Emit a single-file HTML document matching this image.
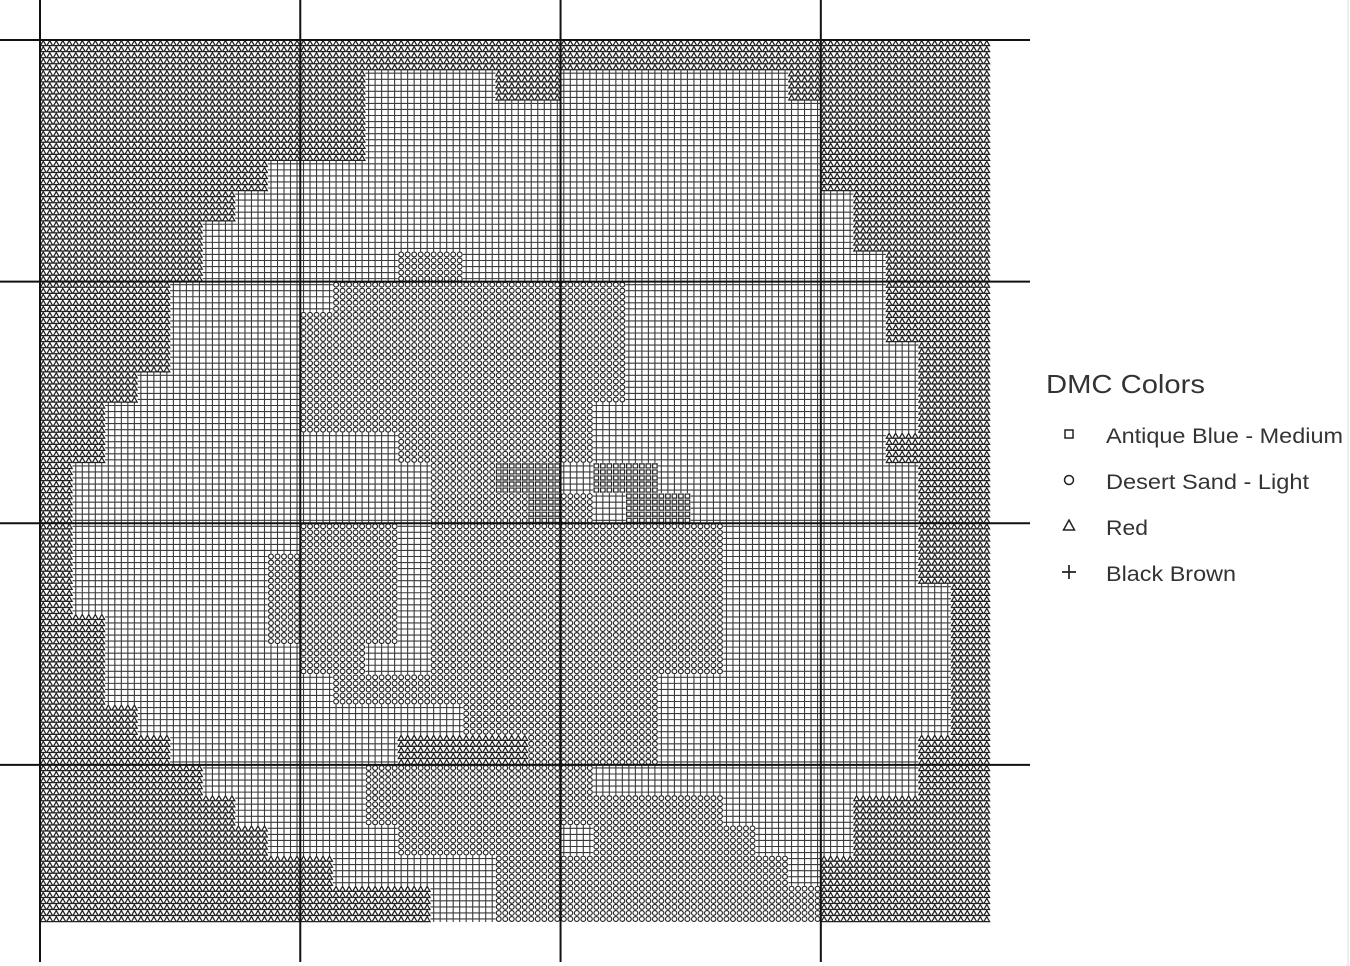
<!DOCTYPE html>
<html><head><meta charset="utf-8"><style>
html,body{margin:0;padding:0;background:#fff;}
svg{display:block;font-family:"Liberation Sans",sans-serif;}
</style></head><body>
<svg id="chart" width="1350" height="966" viewBox="0 0 1350 966">
  <rect x="0" y="0" width="1350" height="966" fill="#fff"/>
  <g id="marks"></g>
  <g id="major"></g>
  <line x1="1348" y1="0" x2="1348" y2="966" stroke="#ddd" stroke-width="1"/>
  <g>
    <text x="1046" y="393" font-size="26" textLength="159" lengthAdjust="spacingAndGlyphs" fill="#333">DMC Colors</text>
    <g>
      <rect x="1065" y="430" width="8" height="8" fill="none" stroke="#222" stroke-width="1.5"/>
      <text x="1106" y="443" font-size="21" textLength="237" lengthAdjust="spacingAndGlyphs" fill="#333">Antique Blue - Medium</text>
    </g>
    <g>
      <circle cx="1069" cy="480" r="4.5" fill="none" stroke="#222" stroke-width="1.5"/>
      <text x="1106" y="489" font-size="21" textLength="203" lengthAdjust="spacingAndGlyphs" fill="#333">Desert Sand - Light</text>
    </g>
    <g>
      <path d="M1069 520 L1074.5 530 L1063.5 530 Z" fill="none" stroke="#222" stroke-width="1.5"/>
      <text x="1106" y="535" font-size="21" textLength="42" lengthAdjust="spacingAndGlyphs" fill="#333">Red</text>
    </g>
    <g>
      <path d="M1062 572 L1076 572 M1069 565 L1069 579" stroke="#222" stroke-width="1.7"/>
      <text x="1106" y="581" font-size="21" textLength="130" lengthAdjust="spacingAndGlyphs" fill="#333">Black Brown</text>
    </g>
  </g>
</svg>
<script>
// Pattern data: coarse map rows (run-length: symbol letter + count), each coarse cell = 5x5 stitches
const nCols = 146;
const nRows = 146;
const blockSize = 5;
const patternRows = [
"T29",
"T10P4T2P7T6",
"T10P14T5",
"T10P14T5",
"T7P17T5",
"T6P19T4",
"T5P20T4",
"T5P6O2P13T3",
"T4P5O9P8T3",
"T4P4O10P8T3",
"T4P4O10P9T2",
"T3P5O10P9T2",
"T2P6O9P10T2",
"T2P9O6P9T3",
"T1P11O2S2P1S2P8T2",
"T1P11O3S1O1P1S2P7T2",
"T1P7O3P1O9P6T2",
"T1P6O4P1O9P6T2",
"T1P6O4P1O9P7T1",
"T2P5O4P1O9P7T1",
"T2P6O2P2O9P7T1",
"T2P7O10P9T1",
"T3P10O6P9T1",
"T4P7T4O4P8T2",
"T5P5O7P10T2",
"T6P4O11P4T4",
"T7P4O5P1O5P3T4",
"T9P5O9P1T5",
"T12P2O10T5"
];
const majorEvery = 40;

const x0 = 40, y0 = 40, plotW = 950, plotH = 882;
const cw = plotW / nCols, ch = plotH / nRows;
function xScale(c){ return x0 + c * cw; }
function yScale(r){ return y0 + r * ch; }

function expand(rle){
  const out = [];
  const re = /([A-Z])(\d+)/g; let m;
  while((m = re.exec(rle))){ for(let i=0;i<+m[2];i++) out.push(m[1]); }
  return out;
}
const coarse = patternRows.map(expand);
function symbolAt(r,c){
  const rr = Math.min(coarse.length-1, Math.floor(r/blockSize));
  const row = coarse[rr];
  const cc = Math.min(row.length-1, Math.floor(c/blockSize));
  return row[cc];
}

let dP = "", dT = "", dO = "", dS = "";
for(let r=0;r<nRows;r++){
  for(let c=0;c<nCols;c++){
    const s = symbolAt(r,c);
    const x = xScale(c), y = yScale(r), cx = x + cw/2, cy = y + ch/2;
    if(s === "P"){
      dP += `M${x.toFixed(2)} ${cy.toFixed(2)}h${cw.toFixed(2)}M${cx.toFixed(2)} ${y.toFixed(2)}v${ch.toFixed(2)}`;
    } else if(s === "T"){
      dT += `M${cx.toFixed(2)} ${(y+0.6).toFixed(2)}L${(x+cw-0.4).toFixed(2)} ${(y+ch-0.4).toFixed(2)}H${(x+0.4).toFixed(2)}Z`;
    } else if(s === "O"){
      const rad = Math.min(cw,ch)/2 - 0.6;
      dO += `M${(cx-rad).toFixed(2)} ${cy.toFixed(2)}a${rad.toFixed(2)} ${rad.toFixed(2)} 0 1 0 ${(2*rad).toFixed(2)} 0a${rad.toFixed(2)} ${rad.toFixed(2)} 0 1 0 ${(-2*rad).toFixed(2)} 0`;
    } else if(s === "S"){
      dS += `M${(x+1).toFixed(2)} ${(y+1).toFixed(2)}h${(cw-2).toFixed(2)}v${(ch-2).toFixed(2)}h${(-(cw-2)).toFixed(2)}Z`;
    }
  }
}
const NS = "http://www.w3.org/2000/svg";
const marks = document.getElementById("marks");
function addPath(d, stroke, sw, name){
  const p = document.createElementNS(NS, "path");
  p.setAttribute("d", d);
  p.setAttribute("fill", "none");
  p.setAttribute("stroke", stroke);
  p.setAttribute("stroke-width", sw);
  
  
  marks.appendChild(p);
}
addPath(dP, "#3a3a3a", "1.1", "black-brown-stitches");
addPath(dT, "#222", "1.25", "red-stitches");
addPath(dO, "#222", "1.15", "desert-sand-stitches");
addPath(dS, "#222", "1.2", "antique-blue-stitches");

const major = document.getElementById("major");
let dM = "";
for(let c=0;c<=nCols;c+=majorEvery){ dM += `M${xScale(c).toFixed(2)} 0V962`; }
for(let r=0;r<=nRows;r+=majorEvery){ dM += `M0 ${yScale(r).toFixed(2)}H1030`; }
const mp = document.createElementNS(NS, "path");
mp.setAttribute("d", dM);
mp.setAttribute("stroke", "#111");
mp.setAttribute("stroke-width", "2");


major.appendChild(mp);
</script>
</body></html>
